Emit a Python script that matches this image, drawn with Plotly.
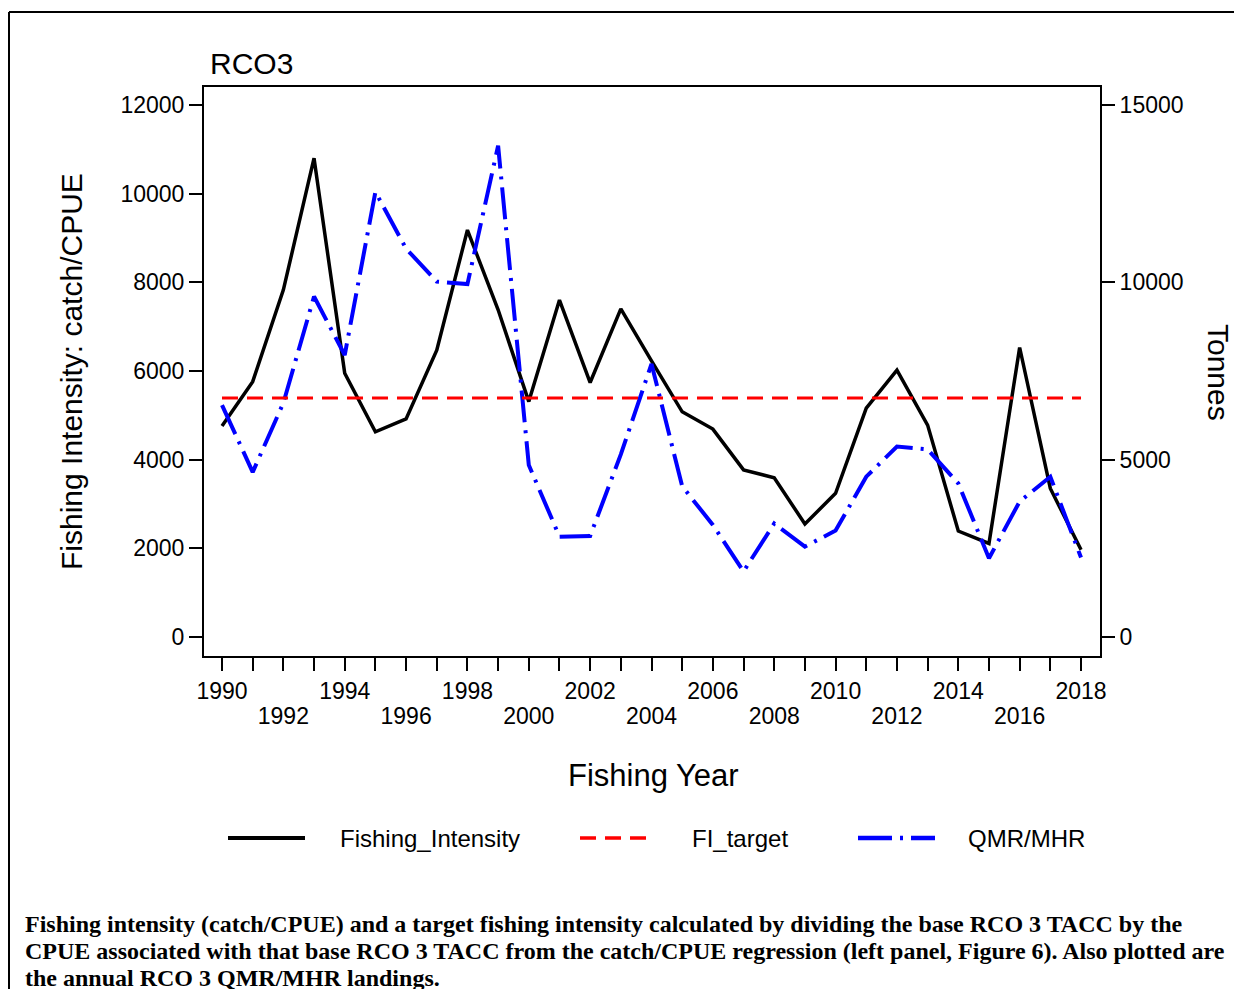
import plotly.graph_objects as go

years = list(range(1990, 2019))
fishing_intensity = [4760, 5760, 7830, 10800, 5950, 4630, 4920, 6470, 9180, 7380,
                     5310, 7600, 5740, 7400, 6230, 5080, 4690, 3770, 3590, 2550,
                     3240, 5160, 6020, 4780, 2390, 2110, 6530, 3350, 1970]
fi_target = [5390] * len(years)
qmr_mhr = [6540, 4650, 6600, 9600, 7950, 12550, 10950, 10020, 9950, 13850,
           4850, 2830, 2850, 5150, 7700, 4250, 3160, 1850, 3200, 2550,
           3000, 4520, 5370, 5290, 4330, 2220, 3820, 4520, 2240]

left_ticks = [0, 2000, 4000, 6000, 8000, 10000, 12000]
right_ticks = [0, 5000, 10000, 15000]
top_row_years = [1990, 1994, 1998, 2002, 2006, 2010, 2014, 2018]
bottom_row_years = [1992, 1996, 2000, 2004, 2008, 2012, 2016]

OFF = 8  # page body margin
W, H = 1242 - OFF, 989 - OFF
L, R, T, B = 204 - OFF, 1100 - OFF, 87 - OFF, 656 - OFF


def px2x(px):
    return (px - OFF - L) / (R - L)


def px2y(py):
    return (B - (py - OFF)) / (B - T)


FONT = "Liberation Sans, Arial, sans-serif"
XR = [1989.413, 2018.619]

fig = go.Figure()
fig.add_trace(go.Scatter(x=years, y=fishing_intensity, mode="lines", name="Fishing_Intensity",
                         line=dict(color="black", width=3.5), xaxis="x", yaxis="y"))
fig.add_trace(go.Scatter(x=years, y=fi_target, mode="lines", name="FI_target",
                         line=dict(color="#ff0000", width=3, dash="16px,9px"), xaxis="x2", yaxis="y"))
fig.add_trace(go.Scatter(x=years, y=qmr_mhr, mode="lines", name="QMR/MHR",
                         line=dict(color="#0000ff", width=4, dash="32px,8px,3px,8px"), xaxis="x", yaxis="y2"))

tick_common = dict(ticks="outside", ticklen=13, tickwidth=2, tickcolor="black",
                   showgrid=False, zeroline=False, tickfont=dict(size=23))

fig.update_layout(
    width=W, height=H,
    margin=dict(l=L, r=W - R, t=T, b=H - B, pad=0),
    paper_bgcolor="white", plot_bgcolor="white",
    showlegend=False,
    font=dict(family=FONT, color="black", size=23),
    xaxis=dict(
        range=XR,
        tickmode="array", tickvals=years,
        ticktext=[str(y) if y in top_row_years else "" for y in years],
        showline=True, linecolor="black", linewidth=2, mirror=True,
        **tick_common,
    ),
    xaxis2=dict(
        range=XR, overlaying="x", side="bottom", matches="x",
        tickmode="array", tickvals=bottom_row_years,
        ticktext=[str(y) for y in bottom_row_years],
        ticks="", showline=False, showgrid=False, zeroline=False,
        tickfont=dict(size=23), ticklabelstandoff=44,
    ),
    yaxis=dict(
        range=[-428.6, 12406],
        tickmode="array", tickvals=left_ticks, ticktext=[str(v) for v in left_ticks],
        showline=True, linecolor="black", linewidth=2,
        **tick_common,
    ),
    yaxis2=dict(
        range=[-535.7, 15507.5],
        overlaying="y", side="right",
        tickmode="array", tickvals=right_ticks, ticktext=[str(v) for v in right_ticks],
        showline=True, linecolor="black", linewidth=2,
        **tick_common,
    ),
)

ann = []
ann.append(dict(text="RCO3", x=px2x(208), y=px2y(63), xref="paper", yref="paper",
                xanchor="left", yanchor="middle", showarrow=False, font=dict(size=30)))
ann.append(dict(text="Fishing Intensity: catch/CPUE", x=px2x(71), y=px2y(372), xref="paper", yref="paper",
                xanchor="center", yanchor="middle", textangle=-90, showarrow=False, font=dict(size=30)))
ann.append(dict(text="Tonnes", x=px2x(1219), y=px2y(372), xref="paper", yref="paper",
                xanchor="center", yanchor="middle", textangle=90, showarrow=False, font=dict(size=30)))
ann.append(dict(text="Fishing Year", x=px2x(653), y=px2y(775), xref="paper", yref="paper",
                xanchor="center", yanchor="middle", showarrow=False, font=dict(size=31)))

# manual legend
legend_items = [
    ("Fishing_Intensity", 228, 305, 338, dict(color="black", width=4)),
    ("FI_target", 580, 652, 690, dict(color="#ff0000", width=3.5, dash="16px,9px")),
    ("QMR/MHR", 858, 935, 966, dict(color="#0000ff", width=4.5, dash="34px,8px,3px,8px")),
]
shapes = []
ly = 838
for name, x0, x1, tx, ln in legend_items:
    shapes.append(dict(type="line", xref="paper", yref="paper",
                       x0=px2x(x0), x1=px2x(x1), y0=px2y(ly), y1=px2y(ly), line=ln))
    ann.append(dict(text=name, x=px2x(tx), y=px2y(ly), xref="paper", yref="paper",
                    xanchor="left", yanchor="middle", showarrow=False, font=dict(size=24)))

caption_lines = [
    "Fishing intensity (catch/CPUE) and a target fishing intensity calculated by dividing the base RCO 3 TACC by the",
    "CPUE associated with that base RCO 3 TACC from the catch/CPUE regression (left panel, Figure 6). Also plotted are",
    "the annual RCO 3 QMR/MHR landings.",
]
for i, line in enumerate(caption_lines):
    ann.append(dict(text="<b>" + line + "</b>", x=px2x(23), y=px2y(924 + 27 * i), xref="paper", yref="paper",
                    xanchor="left", yanchor="middle", align="left", showarrow=False,
                    font=dict(family="Liberation Serif, Times New Roman, serif", size=24, color="black")))

# outer frame
shapes.append(dict(type="line", xref="paper", yref="paper", x0=px2x(9), x1=px2x(1250),
                   y0=px2y(12), y1=px2y(12), line=dict(color="black", width=2)))
shapes.append(dict(type="line", xref="paper", yref="paper", x0=px2x(9), x1=px2x(9),
                   y0=px2y(12), y1=px2y(1000), line=dict(color="black", width=2)))

fig.update_layout(annotations=ann, shapes=shapes)

fig.write_html("out.html")
